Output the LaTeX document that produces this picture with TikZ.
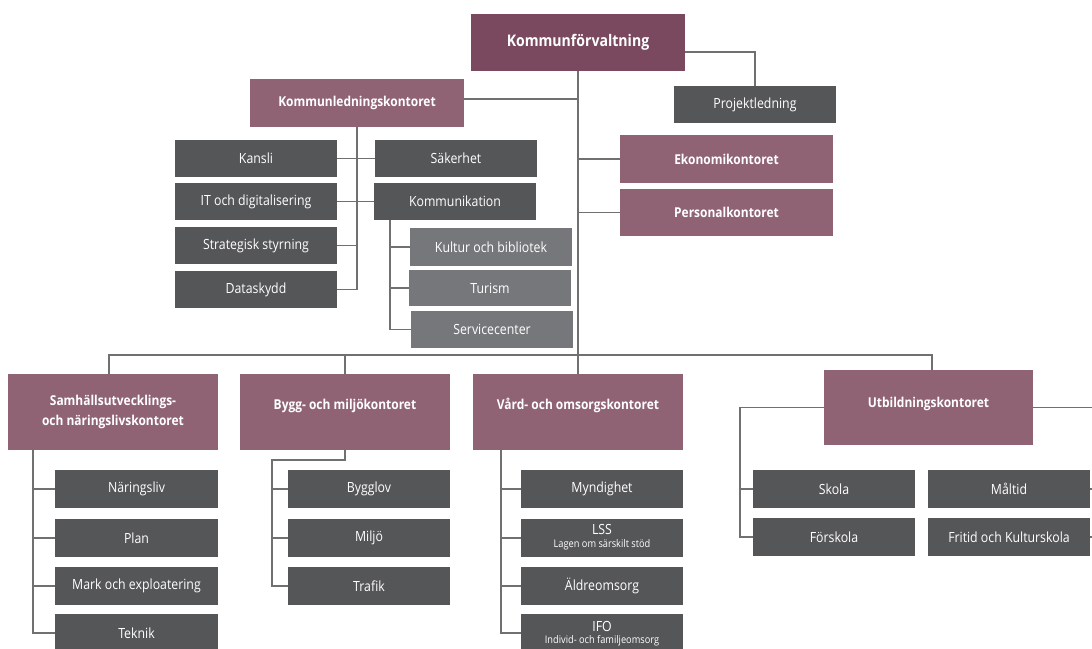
\documentclass[tikz,border=0pt]{standalone}
\usepackage{fontspec}
\setmainfont{Open Sans}[FakeStretch=0.88]
\definecolor{topc}{HTML}{7A4960}
\definecolor{offc}{HTML}{8F6374}
\definecolor{dkc}{HTML}{555658}
\definecolor{ltc}{HTML}{76777A}
\definecolor{linec}{HTML}{707070}
\newcommand\smalltxt{\fontsize{10.5}{11}\selectfont}
\tikzset{
  bx/.style={rectangle, inner sep=0pt, text=white, align=center},
  topbox/.style={bx, fill=topc, font=\bfseries\fontsize{16}{18}\selectfont, minimum width=214pt, minimum height=57pt},
  office/.style={bx, fill=offc, font=\bfseries\fontsize{13.6}{19.5}\selectfont},
  dkbox/.style={bx, fill=dkc, font=\fontsize{14}{15}\selectfont, minimum width=162pt, minimum height=37pt},
  ltbox/.style={bx, fill=ltc, font=\fontsize{14}{15}\selectfont, minimum width=162pt, minimum height=37pt},
  conn/.style={draw=linec, line width=1.1pt}
}
\begin{document}
\begin{tikzpicture}[x=1pt,y=-1pt]
\useasboundingbox (0,0) rectangle (1092,648);
\clip (0,0) rectangle (1092,648);
\fill[white] (0,0) rectangle (1092,648);

% top level
\node[topbox] (kf) at (578,42.5) {Kommunförvaltning};
\node[dkbox] (proj) at (755,104.5) {Projektledning};
\node[office, minimum width=214pt, minimum height=48pt] (kl) at (357,103) {Kommunledningskontoret};
\node[office, minimum width=213pt, minimum height=48pt] (eko) at (726.5,159) {Ekonomikontoret};
\node[office, minimum width=213pt, minimum height=47pt] (pers) at (726.5,212.5) {Personalkontoret};

% kommunledning children
\node[dkbox] (kansli) at (256,158.5) {Kansli};
\node[dkbox] (sak) at (456,158.5) {Säkerhet};
\node[dkbox] (it) at (256,201.5) {IT och digitalisering};
\node[dkbox] (komm) at (455,201.5) {Kommunikation};
\node[dkbox] (strat) at (256,245.5) {Strategisk styrning};
\node[dkbox] (data) at (256,289.5) {Dataskydd};
\node[ltbox, minimum height=38pt] (kult) at (491,247) {Kultur och bibliotek};
\node[ltbox, minimum height=36pt] (tur) at (490,288) {Turism};
\node[ltbox] (serv) at (492,329.5) {Servicecenter};

% offices row
\node[office, minimum width=210pt, minimum height=76pt] (samh) at (113,412) {Samhällsutvecklings-\\och näringslivskontoret};
\node[office, minimum width=210pt, minimum height=76pt, label={[office, yshift=6pt]center:Bygg- och miljökontoret}] (bygg) at (345,412) {};
\node[office, minimum width=210pt, minimum height=76pt, label={[office, yshift=7pt]center:Vård- och omsorgskontoret}] (vard) at (578,412) {};
\node[office, minimum width=209pt, minimum height=75pt, label={[office, yshift=3.5pt]center:Utbildningskontoret}] (utb) at (928.5,407.5) {};

% samh children
\node[dkbox, minimum width=163pt, minimum height=38pt] (nar) at (136.5,489) {Näringsliv};
\node[dkbox, minimum width=163pt, minimum height=38pt] (plan) at (136.5,538) {Plan};
\node[dkbox, minimum width=163pt, minimum height=38pt] (mark) at (136.5,586) {Mark och exploatering};
\node[dkbox, minimum width=163pt, minimum height=38pt] (tek) at (136.5,633) {Teknik};

% bygg children
\node[dkbox, minimum height=38pt] (bl) at (369,489) {Bygglov};
\node[dkbox, minimum height=38pt] (mil) at (369,538) {Miljö};
\node[dkbox, minimum height=38pt] (traf) at (369,586) {Trafik};

% vard children
\node[dkbox, minimum height=38pt] (myn) at (602,489) {Myndighet};
\node[dkbox, minimum height=38pt] (lss) at (602,538) {};
\node[bx, font=\fontsize{14}{15}\selectfont] (lsst) at (602,537) {LSS\\[-2pt]{\smalltxt Lagen om särskilt stöd}};
\node[dkbox, minimum height=38pt] (ald) at (602,586) {Äldreomsorg};
\node[dkbox, minimum height=38pt] (ifo) at (602,633) {};
\node[bx, font=\fontsize{14}{15}\selectfont] (ifot) at (602,634) {IFO\\[-3pt]{\smalltxt Individ- och familjeomsorg}};

% utb children
\node[dkbox, minimum height=38pt] (sko) at (834,489) {Skola};
\node[dkbox, minimum height=38pt] (fsk) at (834,537) {Förskola};
\node[dkbox, minimum height=38pt] (mal) at (1009,489) {Måltid};
\node[dkbox, minimum height=38pt] (fri) at (1009,537) {Fritid och Kulturskola};

% coordinates for connectors
\coordinate (busL) at (109,355);
\coordinate (busR) at (932,355);
\coordinate (kv) at (390,220);
\coordinate (sv) at (33,450);
\coordinate (bv) at (272,460);
\coordinate (vv) at (501,450);
\coordinate (uv) at (740,407.5);
\coordinate (edge) at (1092,0);

% top connectors
\draw[conn] ([yshift=-9.5pt]kf.east) -| (proj.north);
\draw[conn] (kf.south) -- (vard.north);
\draw[conn] ([yshift=4pt]kl.east) -- ([yshift=4pt]kl.east -| kf.south);
\draw[conn] (eko.west) -- (eko.west -| kf.south);
\draw[conn] (pers.west) -- (pers.west -| kf.south);

% kommunledning connectors
\draw[conn] (kl.south) -- (kl.south |- data.east) -- (data.east);
\draw[conn] (kansli.east) -- (sak.west);
\draw[conn] (it.east) -- (komm.west);
\draw[conn] (strat.east) -- (strat.east -| kl.south);
\draw[conn] (kv) -- (kv |- serv.west) -- (serv.west);
\draw[conn] (kult.west) -- (kult.west -| kv);
\draw[conn] (tur.west) -- (tur.west -| kv);

% bus
\draw[conn] (samh.north -| busL) -- (busL) -- (busR) -- (utb.north -| busR);
\draw[conn] (bygg.north) -- (bygg.north |- busL);

% samh
\draw[conn] (sv) -- (sv |- tek.west) -- (tek.west);
\draw[conn] (nar.west) -- (nar.west -| sv);
\draw[conn] (plan.west) -- (plan.west -| sv);
\draw[conn] (mark.west) -- (mark.west -| sv);

% bygg
\draw[conn] (bygg.south) -- (bygg.south |- bv) -- (bv) -- (bv |- traf.west) -- (traf.west);
\draw[conn] (bl.west) -- (bl.west -| bv);
\draw[conn] (mil.west) -- (mil.west -| bv);

% vard
\draw[conn] (vv) -- (vv |- ifo.west) -- (ifo.west);
\draw[conn] (myn.west) -- (myn.west -| vv);
\draw[conn] (lss.west) -- (lss.west -| vv);
\draw[conn] (ald.west) -- (ald.west -| vv);

% utb
\draw[conn] (utb.west) -- (uv) -- (uv |- fsk.west) -- (fsk.west);
\draw[conn] (sko.west) -- (sko.west -| uv);
\draw[conn] (utb.east) -- (utb.east -| edge);
\draw[conn] (mal.east) -- (mal.east -| edge);
\draw[conn] (fri.east) -- (fri.east -| edge);
\end{tikzpicture}
\end{document}
